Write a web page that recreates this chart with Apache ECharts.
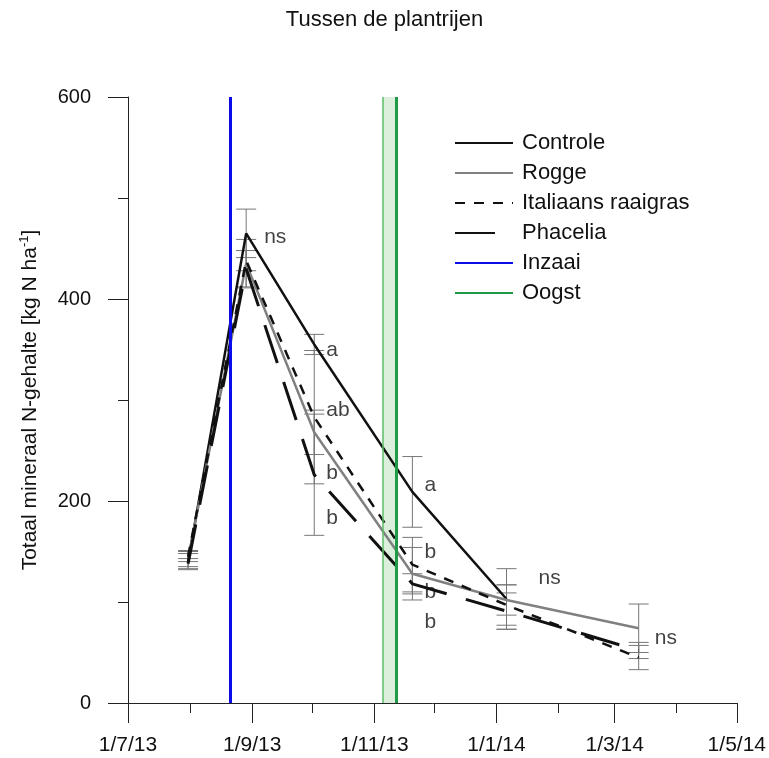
<!DOCTYPE html>
<html>
<head>
<meta charset="utf-8">
<script src="https://cdn.jsdelivr.net/npm/echarts@6.0.0/dist/echarts.min.js"></script>
<style>html,body{margin:0;padding:0;background:#fff}#main{width:769px;height:758px}</style>
</head>
<body>
<div id="main"></div>
<script>
// sampling dates and N-min values (kg N/ha)
var sampleDates = ['2013-07-31', '2013-08-29', '2013-10-02', '2013-11-20', '2014-01-06', '2014-03-13'];
var controle  = [140, 465, 355, 209, 103, null];
var rogge     = [143, 435, 268, 128, 102, 74];
var italiaans = [145, 438, 283, 137, 97, 45];
var phacelia  = [138, 430, 226, 118, 91, 52];
// half-width of the error bars
var errControle  = [8, 24, 10, 35, 30, null];
var errRogge     = [8, 24, 22, 26, 15, 24];
var errItaliaans = [5, 10, 66, 27, 20, 12];
var errPhacelia  = [5, 18, 60, 10, 18, 8];

var inzaaiDate = '2013-08-21';
var oogstStart = '2013-11-05';
var oogstEnd = '2013-11-12';

// significance letters
var sigDates  = ['2013-09-07', '2013-10-08', '2013-10-08', '2013-10-08', '2013-10-08',
                 '2013-11-26', '2013-11-26', '2013-11-26', '2013-11-26', '2014-01-22', '2014-03-21'];
var sigValues = [461, 349, 290, 228, 183, 216, 149, 110, 80, 124, 64];
var sigLabels = ['ns', 'a', 'ab', 'b', 'b', 'a', 'b', 'b', 'b', 'ns', 'ns'];

var majorTicks = ['2013-07-01', '2013-09-01', '2013-11-01', '2014-01-01', '2014-03-01', '2014-05-01'];
var minorTicks = ['2013-08-01', '2013-10-01', '2013-12-01', '2014-02-01', '2014-04-01'];

function toTime(s) {
    var p = s.split('-');
    return new Date(+p[0], +p[1] - 1, +p[2]).getTime();
}
function pairs(vals) {
    return sampleDates.map(function (d, i) { return [toTime(d), vals[i]]; })
        .filter(function (p) { return p[1] != null; });
}
function bars(vals, errs) {
    return sampleDates.map(function (d, i) { return [toTime(d), vals[i] - errs[i], vals[i] + errs[i]]; })
        .filter(function (p, i) { return vals[i] != null; });
}

var font = "'Liberation Sans', Arial, sans-serif";
var xMin = toTime('2013-07-01'), xMax = toTime('2014-05-01');

function errorSeries(vals, errs) {
    return {
        type: 'custom',
        z: 1,
        silent: true,
        data: bars(vals, errs),
        encode: { x: 0, y: [1, 2] },
        renderItem: function (params, api) {
            var top = api.coord([api.value(0), api.value(2)]);
            var bot = api.coord([api.value(0), api.value(1)]);
            var w = 10;
            var st = { stroke: '#777', lineWidth: 1 };
            return {
                type: 'group',
                children: [
                    { type: 'line', shape: { x1: top[0], y1: top[1], x2: bot[0], y2: bot[1] }, style: st },
                    { type: 'line', shape: { x1: top[0] - w, y1: top[1], x2: top[0] + w, y2: top[1] }, style: st },
                    { type: 'line', shape: { x1: bot[0] - w, y1: bot[1], x2: bot[0] + w, y2: bot[1] }, style: st }
                ]
            };
        }
    };
}

function lineSeries(name, vals, color, type, width) {
    return {
        name: name,
        type: 'line',
        z: 4,
        symbol: 'none',
        data: pairs(vals),
        itemStyle: { color: color },
        lineStyle: { color: color, width: width, type: type, cap: 'butt' }
    };
}

var myChart = echarts.init(document.getElementById('main'));

var option = {
    animation: false,
    textStyle: { fontFamily: font, color: '#111' },
    title: {
        text: 'Tussen de plantrijen',
        left: 'center',
        top: 4,
        textStyle: { fontFamily: font, fontSize: 22, fontWeight: 'normal', color: '#111' }
    },
    grid: { left: 128, right: 30, top: 97, bottom: 55 },
    legend: {
        orient: 'vertical',
        left: 449,
        top: 127,
        itemWidth: 58,
        itemHeight: 14,
        itemGap: 8,
        itemStyle: { color: 'rgba(0,0,0,0)', borderColor: 'rgba(0,0,0,0)', borderWidth: 0 },
        data: ['Controle', 'Rogge', 'Italiaans raaigras', 'Phacelia', 'Inzaai', 'Oogst'],
        textStyle: { fontFamily: font, fontSize: 22, lineHeight: 22, color: '#111', padding: [0, 0, 0, 4] }
    },
    xAxis: [{
        type: 'value',
        min: xMin,
        max: xMax,
        axisLine: { lineStyle: { color: '#222', width: 1 } },
        axisTick: { length: 20, customValues: majorTicks.map(toTime), lineStyle: { color: '#222' } },
        axisLabel: {
            customValues: majorTicks.map(toTime),
            margin: 32,
            fontSize: 21,
            fontFamily: font,
            color: '#111',
            formatter: function (v) {
                var d = new Date(v);
                return d.getDate() + '/' + (d.getMonth() + 1) + '/' + String(d.getFullYear()).slice(2);
            }
        },
        splitLine: { show: false }
    }, {
        type: 'value',
        position: 'bottom',
        min: xMin,
        max: xMax,
        axisLine: { show: false },
        axisTick: { length: 10, customValues: minorTicks.map(toTime), lineStyle: { color: '#222' } },
        axisLabel: { show: false },
        splitLine: { show: false }
    }],
    yAxis: {
        type: 'value',
        min: 0,
        max: 600,
        interval: 200,
        name: 'Totaal mineraal N-gehalte [kg N ha{sup|-1}]',
        nameLocation: 'middle',
        nameGap: 86,
        nameTextStyle: {
            fontFamily: font, fontSize: 21, color: '#111', lineHeight: 24,
            rich: { sup: { fontFamily: font, fontSize: 13, verticalAlign: 'top', lineHeight: 24 } }
        },
        axisLine: { show: true, lineStyle: { color: '#222', width: 1 } },
        axisTick: { show: true, length: 20, lineStyle: { color: '#222' } },
        minorTick: { show: true, splitNumber: 2, length: 10, lineStyle: { color: '#222' } },
        axisLabel: { margin: 37, fontSize: 20, fontFamily: font, color: '#111' },
        splitLine: { show: false }
    },
    series: [
        {
            name: 'Inzaai',
            type: 'line',
            z: 2,
            data: [],
            symbol: 'none',
            itemStyle: { color: '#0c0ce8' },
            lineStyle: { color: '#0c0ce8', width: 3 },
            markLine: {
                silent: true,
                symbol: ['none', 'none'],
                label: { show: false },
                lineStyle: { color: '#0c0ce8', width: 3, type: 'solid' },
                data: [{ xAxis: toTime(inzaaiDate) }]
            }
        },
        {
            name: 'Oogst',
            type: 'line',
            z: 2,
            data: [],
            symbol: 'none',
            itemStyle: { color: '#1f9a46' },
            lineStyle: { color: '#1f9a46', width: 3 },
            markArea: {
                silent: true,
                itemStyle: { color: '#dcefdc' },
                data: [[{ xAxis: toTime(oogstStart) }, { xAxis: toTime(oogstEnd) }]]
            },
            markLine: {
                silent: true,
                symbol: ['none', 'none'],
                label: { show: false },
                data: [
                    { xAxis: toTime(oogstStart), lineStyle: { color: '#5cc06a', width: 1.5, type: 'solid' } },
                    { xAxis: toTime(oogstEnd), lineStyle: { color: '#1f9a46', width: 3, type: 'solid' } }
                ]
            }
        },
        errorSeries(controle, errControle),
        errorSeries(rogge, errRogge),
        errorSeries(italiaans, errItaliaans),
        errorSeries(phacelia, errPhacelia),
        lineSeries('Controle', controle, '#111', 'solid', 2.5),
        lineSeries('Rogge', rogge, '#808080', 'solid', 2.5),
        lineSeries('Italiaans raaigras', italiaans, '#111', [10, 9], 2.5),
        lineSeries('Phacelia', phacelia, '#111', [40, 20], 3),
        {
            type: 'scatter',
            z: 5,
            silent: true,
            symbolSize: 0,
            data: sigDates.map(function (d, i) { return [toTime(d), sigValues[i], sigLabels[i]]; }),
            label: {
                show: true,
                position: 'right',
                distance: 0,
                fontFamily: font,
                fontSize: 21,
                color: '#111',
                formatter: function (p) { return p.value[2]; }
            }
        }
    ]
};

myChart.setOption(option);
</script>
</body>
</html>
